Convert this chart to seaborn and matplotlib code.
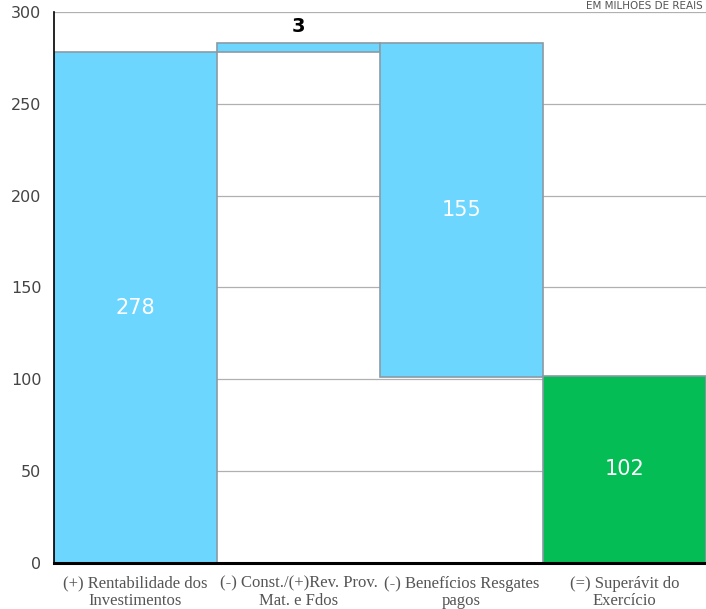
import numpy as np
import pandas as pd
import matplotlib
matplotlib.use("Agg")
import matplotlib.pyplot as plt
import seaborn as sns

# waterfall steps (R$ milhões)
categories = [
    "(+) Rentabilidade dos\nInvestimentos",
    "(-) Const./(+)Rev. Prov.\nMat. e Fdos",
    "(-) Benefícios Resgates\npagos",
    "(=) Superávit do\nExercício",
]
bar_bottoms = [0, 278, 101, 0]
bar_tops = [278, 283, 283, 102]
bar_labels = ["278", "3", "155", "102"]
yticks = [0, 50, 100, 150, 200, 250, 300]

BLUE = "#6dd6fe"
GREEN = "#05bd55"

sns.set_theme(style="white")
plt.rcParams["font.family"] = ["DejaVu Sans"]

df = pd.DataFrame({
    "cat": categories,
    "height": np.array(bar_tops) - np.array(bar_bottoms),
    "bottom": bar_bottoms,
})

fig = plt.figure(figsize=(7.06, 6.09), dpi=100)
ax = fig.add_axes([54 / 706, 46 / 609, 652 / 706, 551 / 609])

sns.barplot(data=df, x="cat", y="height", hue="cat",
            palette=[BLUE, BLUE, BLUE, GREEN], saturation=1, width=1.0,
            edgecolor="#8a9aa6", linewidth=1.2, legend=False, ax=ax)
# shift each bar to its waterfall baseline
for patch, b in zip(ax.patches, df["bottom"]):
    patch.set_y(b)

ax.set_ylim(0, 300)
ax.set_xlim(-0.5, 3.5)
ax.set_yticks(yticks)
ax.yaxis.grid(True, color="#b0b0b0", linewidth=0.9)
ax.set_axisbelow(True)
ax.set_xlabel("")
ax.set_ylabel("")

ax.set_xticks(range(len(categories)))
ax.set_xticklabels(categories, family="Liberation Serif", fontsize=12,
                   color="#555555", linespacing=1.15)
ax.set_xticks([-0.5, 0.5, 1.5, 2.5], minor=True)
ax.tick_params(axis="x", which="major", length=0, pad=9)
ax.tick_params(axis="x", which="minor", length=5, width=1.2, color="black",
               direction="out")
ax.tick_params(axis="y", length=5, width=1, color="black", direction="out",
               labelsize=11.5, labelcolor="#444444", pad=4)

for side in ["top", "right"]:
    ax.spines[side].set_visible(False)
ax.spines["left"].set_color("black")
ax.spines["left"].set_linewidth(1.2)
ax.spines["bottom"].set_color("black")
ax.spines["bottom"].set_linewidth(2.2)

for i, (lab, b, t) in enumerate(zip(bar_labels, bar_bottoms, bar_tops)):
    if t - b < 20:
        ax.text(i, t + 4, lab, ha="center", va="bottom", fontsize=14,
                fontweight="bold", color="black")
    else:
        ax.text(i, (b + t) / 2, lab, ha="center", va="center", fontsize=15,
                color="white")

fig.text(0.995, 0.999, "EM MILHÕES DE REAIS", ha="right", va="top",
         fontsize=7.5, color="#555555")

fig.savefig("out.png", dpi=100)
